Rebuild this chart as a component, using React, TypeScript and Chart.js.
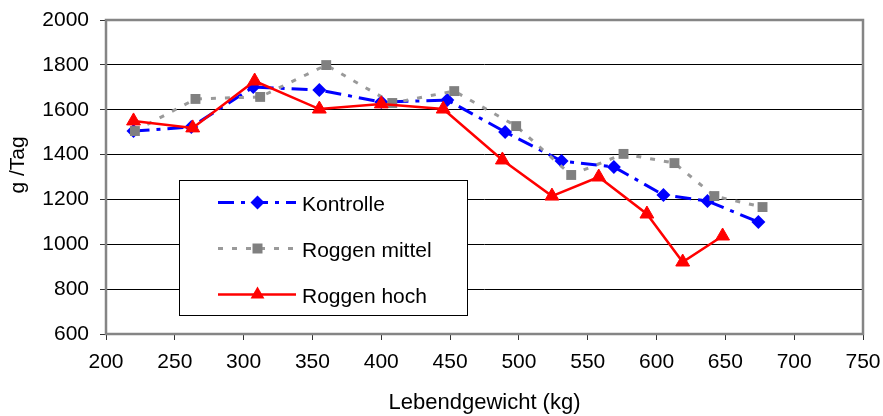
import React, { useEffect, useRef } from "react";
import { Chart, registerables } from "chart.js";

Chart.register(...registerables);

const kontrolleX = [220, 262, 307, 355, 400, 448, 490, 531, 569, 605, 637, 674];
const kontrolleY = [1505, 1523, 1701, 1688, 1634, 1643, 1501, 1371, 1345, 1220, 1193, 1099];
const mittelX = [221, 265, 312, 360, 408, 453, 498, 538, 576, 613, 642, 677];
const mittelY = [1505, 1648, 1657, 1799, 1630, 1683, 1527, 1309, 1403, 1362, 1215, 1166];
const hochX = [220, 263, 308, 355, 400, 445, 488, 524, 558, 593, 619, 648];
const hochY = [1550, 1519, 1728, 1603, 1626, 1603, 1376, 1215, 1300, 1135, 921, 1037];

const seriesNames = ["Kontrolle", "Roggen mittel", "Roggen hoch"];
const xTitle = "Lebendgewicht (kg)";
const yTitle = "g /Tag";
const xMin = 200, xMax = 750, xStep = 50;
const yMin = 600, yMax = 2000, yStep = 200;

const FONT = '"Liberation Sans", Arial, sans-serif';
const BLUE = "#0000ff";
const GRAYLINE = "#9a9a9a";
const GRAYMARK = "#808080";
const RED = "#ff0000";

function pts(xs: number[], ys: number[]) {
  return xs.map((x, i) => ({ x, y: ys[i] }));
}

function marker(ctx: CanvasRenderingContext2D, kind: string, x: number, y: number, color: string) {
  ctx.save();
  ctx.fillStyle = color;
  ctx.beginPath();
  if (kind === "diamond") {
    const r = 7;
    ctx.moveTo(x, y - r);
    ctx.lineTo(x + r, y);
    ctx.lineTo(x, y + r);
    ctx.lineTo(x - r, y);
  } else if (kind === "square") {
    ctx.rect(x - 5, y - 5, 10, 10);
  } else {
    const r = 8;
    ctx.moveTo(x, y - r);
    ctx.lineTo(x + r * 0.866, y + r * 0.5);
    ctx.lineTo(x - r * 0.866, y + r * 0.5);
  }
  ctx.closePath();
  ctx.fill();
  ctx.restore();
}

const legendPlugin = {
  id: "customLegend",
  beforeDatasetsDraw(chart: any) {
    const ctx = chart.ctx as CanvasRenderingContext2D;
    const bx = 179.5, by = 180.5, bw = 288, bh = 135;
    ctx.save();
    ctx.fillStyle = "#fff";
    ctx.fillRect(bx, by, bw, bh);
    ctx.strokeStyle = "#000";
    ctx.lineWidth = 1;
    ctx.strokeRect(bx, by, bw, bh);
    const rows = [
      { name: seriesNames[0], color: BLUE, dash: [16, 7, 4, 7], w: 3, mk: "diamond", mc: BLUE },
      { name: seriesNames[1], color: GRAYLINE, dash: [5, 9], w: 3, mk: "square", mc: GRAYMARK },
      { name: seriesNames[2], color: RED, dash: [], w: 2.5, mk: "triangle", mc: RED },
    ];
    rows.forEach((r, i) => {
      const y = 202.5 + i * 46;
      ctx.save();
      ctx.strokeStyle = r.color;
      ctx.lineWidth = r.w;
      ctx.setLineDash(r.dash);
      ctx.beginPath();
      ctx.moveTo(218, y);
      ctx.lineTo(296, y);
      ctx.stroke();
      ctx.restore();
      marker(ctx, r.mk, 257.5, y, r.mc);
      ctx.fillStyle = "#000";
      ctx.font = "21px " + FONT;
      ctx.textAlign = "left";
      ctx.textBaseline = "alphabetic";
      ctx.fillText(r.name, 302, y + 8);
    });
    ctx.restore();
  },
  afterDatasetsDraw(chart: any) {
    const ctx = chart.ctx as CanvasRenderingContext2D;
    const a = chart.chartArea;
    ctx.save();
    ctx.strokeStyle = "#858585";
    ctx.lineWidth = 2.5;
    ctx.strokeRect(a.left, a.top, a.right - a.left, a.bottom - a.top);
    ctx.restore();
  },
  afterDraw(chart: any) {
    const ctx = chart.ctx as CanvasRenderingContext2D;
    const a = chart.chartArea;
    ctx.save();
    ctx.fillStyle = "#000";
    ctx.font = "22px " + FONT;
    ctx.textAlign = "center";
    ctx.textBaseline = "alphabetic";
    ctx.fillText(xTitle, (a.left + a.right) / 2, 409);
    ctx.font = "21px " + FONT;
    ctx.translate(24, 165);
    ctx.rotate(-Math.PI / 2);
    ctx.fillText(yTitle, 0, 0);
    ctx.restore();
  },
};

export default function App() {
  const ref = useRef<HTMLCanvasElement | null>(null);
  useEffect(() => {
    if (!ref.current) return;
    const chart = new Chart(ref.current, {
      type: "line",
      data: {
        datasets: [
          {
            label: seriesNames[2],
            data: pts(hochX, hochY),
            borderColor: RED,
            backgroundColor: RED,
            borderWidth: 2.5,
            pointStyle: "triangle",
            pointRadius: 8,
            pointBorderWidth: 1,
            pointBorderColor: RED,
            pointBackgroundColor: RED,
            tension: 0,
          },
          {
            label: seriesNames[1],
            data: pts(mittelX, mittelY),
            borderColor: GRAYLINE,
            backgroundColor: GRAYMARK,
            borderWidth: 3,
            borderDash: [5, 9],
            pointStyle: "rect",
            pointRadius: 7,
            pointBorderWidth: 0,
            pointBorderColor: GRAYMARK,
            pointBackgroundColor: GRAYMARK,
            tension: 0,
          },
          {
            label: seriesNames[0],
            data: pts(kontrolleX, kontrolleY),
            borderColor: BLUE,
            backgroundColor: BLUE,
            borderWidth: 3,
            borderDash: [16, 7, 4, 7],
            pointStyle: "rectRot",
            pointRadius: 7,
            pointBorderWidth: 0,
            pointBorderColor: BLUE,
            pointBackgroundColor: BLUE,
            tension: 0,
          },
        ],
      },
      options: {
        animation: false,
        responsive: false,
        maintainAspectRatio: false,
        layout: { padding: { left: 0, right: 20, top: 20, bottom: 0 } },
        plugins: {
          legend: { display: false },
          tooltip: { enabled: false },
          title: { display: false },
        },
        scales: {
          x: {
            type: "linear",
            min: xMin,
            max: xMax,
            ticks: {
              stepSize: xStep,
              color: "#000",
              font: { family: FONT, size: 21 },
              padding: 10,
              maxRotation: 0,
              autoSkip: false,
              callback: (v: any) => String(v),
            },
            grid: {
              drawOnChartArea: false,
              drawTicks: true,
              tickLength: 6,
              tickColor: "#333",
              tickWidth: 1,
            },
            border: { display: false },
            afterFit(scale: any) {
              scale.height = 82;
              scale.paddingLeft = 0;
              scale.paddingRight = 0;
            },
          },
          y: {
            type: "linear",
            min: yMin,
            max: yMax,
            ticks: {
              stepSize: yStep,
              color: "#000",
              font: { family: FONT, size: 21 },
              padding: 11,
              callback: (v: any) => String(v),
            },
            grid: {
              color: "#000",
              lineWidth: 1,
              drawTicks: true,
              tickLength: 6,
              tickColor: "#333",
            },
            border: { display: false },
            afterFit(scale: any) {
              scale.width = 106;
              scale.paddingTop = 0;
              scale.paddingBottom = 0;
            },
          },
        },
      },
      plugins: [legendPlugin],
    } as any);
    return () => chart.destroy();
  }, []);
  return (
    <div style={{ position: "fixed", left: 0, top: 0, width: 883, height: 416, background: "#fff" }}>
      <canvas ref={ref} width={883} height={416} style={{ width: 883, height: 416, display: "block" }} />
    </div>
  );
}
